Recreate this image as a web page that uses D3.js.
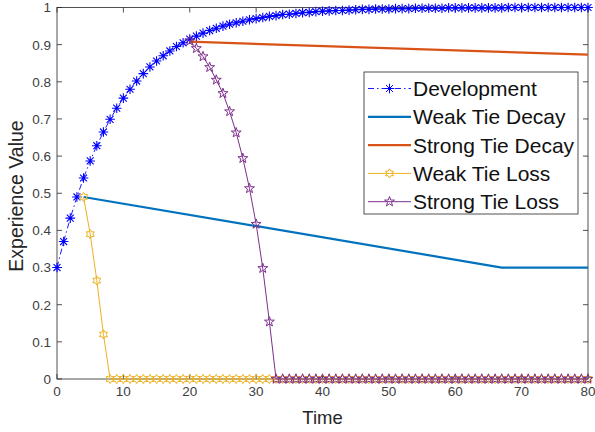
<!DOCTYPE html>
<html>
<head>
<meta charset="utf-8">
<style>
  body { margin: 0; background: #fff; }
  svg { display: block; }
</style>
</head>
<body>
  <svg id="svg" width="595" height="432"></svg>

  <script src="https://cdn.jsdelivr.net/npm/d3@7/dist/d3.min.js"></script>
  <script>
  // --- data ---
  const devTime = d3.range(0, 81);
  const devValue = [
    0.300, 0.370, 0.433, 0.490, 0.541, 0.587, 0.628, 0.665, 0.699, 0.729,
    0.756, 0.780, 0.802, 0.822, 0.840, 0.856, 0.870, 0.883, 0.895, 0.905,
    0.915, 0.923, 0.931, 0.938, 0.944, 0.950, 0.955, 0.959, 0.963, 0.967,
    0.970, 0.973, 0.976, 0.978, 0.981, 0.982, 0.984, 0.986, 0.987, 0.989,
    0.990, 0.991, 0.992, 0.992, 0.993, 0.994, 0.995, 0.995, 0.996, 0.996,
    0.996, 0.997, 0.997, 0.997, 0.998, 0.998, 0.998, 0.998, 0.998, 0.999,
    0.999, 0.999, 0.999, 0.999, 0.999, 0.999, 0.999, 0.999, 1.000, 1.000,
    1.000, 1.000, 1.000, 1.000, 1.000, 1.000, 1.000, 1.000, 1.000, 1.000,
    1.000
  ];

  const weakDecayTime = [4, 67, 80];
  const weakDecayValue = [0.49, 0.30, 0.30];

  const strongDecayTime = [20, 80];
  const strongDecayValue = [0.908, 0.873];

  const weakLossTime = d3.range(4, 81);
  const weakLossValue = [
    0.49, 0.39, 0.265, 0.12, 0, 0, 0, 0, 0, 0,
    0, 0, 0, 0, 0, 0, 0, 0, 0, 0,
    0, 0, 0, 0, 0, 0, 0, 0, 0, 0,
    0, 0, 0, 0, 0, 0, 0, 0, 0, 0,
    0, 0, 0, 0, 0, 0, 0, 0, 0, 0,
    0, 0, 0, 0, 0, 0, 0, 0, 0, 0,
    0, 0, 0, 0, 0, 0, 0, 0, 0, 0,
    0, 0, 0, 0, 0, 0, 0
  ];

  const strongLossTime = d3.range(20, 81);
  const strongLossValue = [
    0.91, 0.89, 0.868, 0.839, 0.805, 0.769, 0.72, 0.663, 0.594, 0.513,
    0.417, 0.298, 0.154, 0, 0, 0, 0, 0, 0, 0,
    0, 0, 0, 0, 0, 0, 0, 0, 0, 0,
    0, 0, 0, 0, 0, 0, 0, 0, 0, 0,
    0, 0, 0, 0, 0, 0, 0, 0, 0, 0,
    0, 0, 0, 0, 0, 0, 0, 0, 0, 0,
    0
  ];

  const xTicks = [0, 10, 20, 30, 40, 50, 60, 70, 80];
  const yTicks = [0, 0.1, 0.2, 0.3, 0.4, 0.5, 0.6, 0.7, 0.8, 0.9, 1];
  const legendNames = ["Development", "Weak Tie Decay", "Strong Tie Decay", "Weak Tie Loss", "Strong Tie Loss"];

  // --- layout ---
  const W = 595, H = 432;
  const m = { left: 57, right: 7, top: 7.5, bottom: 53 };
  const pw = W - m.left - m.right, ph = H - m.top - m.bottom;
  const font = "'Liberation Sans', Arial, sans-serif";
  const axisColor = "#262626";

  const svg = d3.select("#svg");
  const g = svg.append("g").attr("transform", "translate(" + m.left + "," + m.top + ")");

  const x = d3.scaleLinear().domain([0, 80]).range([0, pw]);
  const y = d3.scaleLinear().domain([0, 1]).range([ph, 0]);

  function zip(t, v) { return t.map((d, i) => [d, v[i]]); }
  const line = d3.line().x(d => x(d[0])).y(d => y(d[1]));

  // marker paths
  function asterisk(r) {
    let a = r * 0.72;
    return "M" + (-r) + ",0L" + r + ",0M0," + (-r) + "L0," + r +
      "M" + (-a) + "," + (-a) + "L" + a + "," + a + "M" + (-a) + "," + a + "L" + a + "," + (-a);
  }
  function starPath(n, r) {
    let ri = n === 5 ? r * 0.4 : r * 0.58;
    let pts = [];
    for (let k = 0; k < 2 * n; k++) {
      let ang = -Math.PI / 2 + k * Math.PI / n;
      let rr = k % 2 === 0 ? r : ri;
      pts.push([rr * Math.cos(ang), rr * Math.sin(ang)]);
    }
    return "M" + pts.map(p => p[0].toFixed(2) + "," + p[1].toFixed(2)).join("L") + "Z";
  }

  const series = [
    { name: legendNames[0], data: zip(devTime, devValue), color: "#0000ff", width: 0.9, dash: "6,3,1.5,3", marker: "ast" },
    { name: legendNames[1], data: zip(weakDecayTime, weakDecayValue), color: "#0072bd", width: 2.2, dash: null, marker: null },
    { name: legendNames[2], data: zip(strongDecayTime, strongDecayValue), color: "#d95319", width: 2.2, dash: null, marker: null },
    { name: legendNames[3], data: zip(weakLossTime, weakLossValue), color: "#edb120", width: 1, dash: null, marker: "hex" },
    { name: legendNames[4], data: zip(strongLossTime, strongLossValue), color: "#7e2f8e", width: 1, dash: null, marker: "pent" }
  ];

  function markerD(type) {
    if (type === "ast") return asterisk(4.8);
    if (type === "hex") return starPath(6, 4.6);
    return starPath(5, 5.2);
  }

  // axes box and ticks (inward, MATLAB style)
  g.append("rect").attr("width", pw).attr("height", ph)
    .attr("fill", "none").attr("stroke", axisColor).attr("stroke-width", 0.8);

  const tl = 5;
  xTicks.forEach(t => {
    g.append("line").attr("x1", x(t)).attr("x2", x(t)).attr("y1", ph).attr("y2", ph - tl)
      .attr("stroke", axisColor).attr("stroke-width", 0.8);
    g.append("line").attr("x1", x(t)).attr("x2", x(t)).attr("y1", 0).attr("y2", tl)
      .attr("stroke", axisColor).attr("stroke-width", 0.8);
    g.append("text").attr("x", x(t)).attr("y", ph + 17)
      .attr("text-anchor", "middle").attr("font-family", font).attr("font-size", 13.5)
      .attr("fill", "#404040").text(t);
  });
  yTicks.forEach(t => {
    g.append("line").attr("x1", 0).attr("x2", tl).attr("y1", y(t)).attr("y2", y(t))
      .attr("stroke", axisColor).attr("stroke-width", 0.8);
    g.append("line").attr("x1", pw).attr("x2", pw - tl).attr("y1", y(t)).attr("y2", y(t))
      .attr("stroke", axisColor).attr("stroke-width", 0.8);
    g.append("text").attr("x", -6).attr("y", y(t)).attr("dy", "0.36em")
      .attr("text-anchor", "end").attr("font-family", font).attr("font-size", 13.5)
      .attr("fill", "#404040").text(t === 0 || t === 1 ? t : t.toFixed(1));
  });

  // series
  series.forEach(s => {
    g.append("path").attr("d", line(s.data)).attr("fill", "none")
      .attr("stroke", s.color).attr("stroke-width", s.width)
      .attr("stroke-dasharray", s.dash);
    if (s.marker) {
      g.selectAll(null).data(s.data).enter().append("path")
        .attr("transform", d => "translate(" + x(d[0]) + "," + y(d[1]) + ")")
        .attr("d", markerD(s.marker))
        .attr("fill", "none").attr("stroke", s.color)
        .attr("stroke-width", s.marker === "ast" ? 1.1 : 1)
        .attr("stroke-linejoin", "round");
    }
  });

  // axis labels
  svg.append("text").attr("x", m.left + pw / 2).attr("y", 424)
    .attr("text-anchor", "middle").attr("font-family", font).attr("font-size", 18.5)
    .attr("fill", "#262626").text("Time");
  svg.append("text").attr("transform", "translate(23," + 196 + ") rotate(-90)")
    .attr("text-anchor", "middle").attr("font-family", font).attr("font-size", 19.5)
    .attr("fill", "#262626").text("Experience Value");

  // legend
  const lg = svg.append("g").attr("transform", "translate(364,72)");
  lg.append("rect").attr("width", 214).attr("height", 142)
    .attr("fill", "#fff").attr("stroke", axisColor).attr("stroke-width", 0.8);
  series.forEach((s, i) => {
    const yy = 16.5 + i * 28.3;
    lg.append("line").attr("x1", 4).attr("x2", 47).attr("y1", yy).attr("y2", yy)
      .attr("stroke", s.color).attr("stroke-width", s.width).attr("stroke-dasharray", s.dash);
    if (s.marker) {
      lg.append("path").attr("transform", "translate(25.5," + yy + ")")
        .attr("d", markerD(s.marker)).attr("fill", "none")
        .attr("stroke", s.color).attr("stroke-width", 1);
    }
    lg.append("text").attr("x", 49).attr("y", yy).attr("dy", "0.36em")
      .attr("font-family", font).attr("font-size", 21).attr("fill", "#111")
      .text(s.name);
  });
  </script>
</body>
</html>
